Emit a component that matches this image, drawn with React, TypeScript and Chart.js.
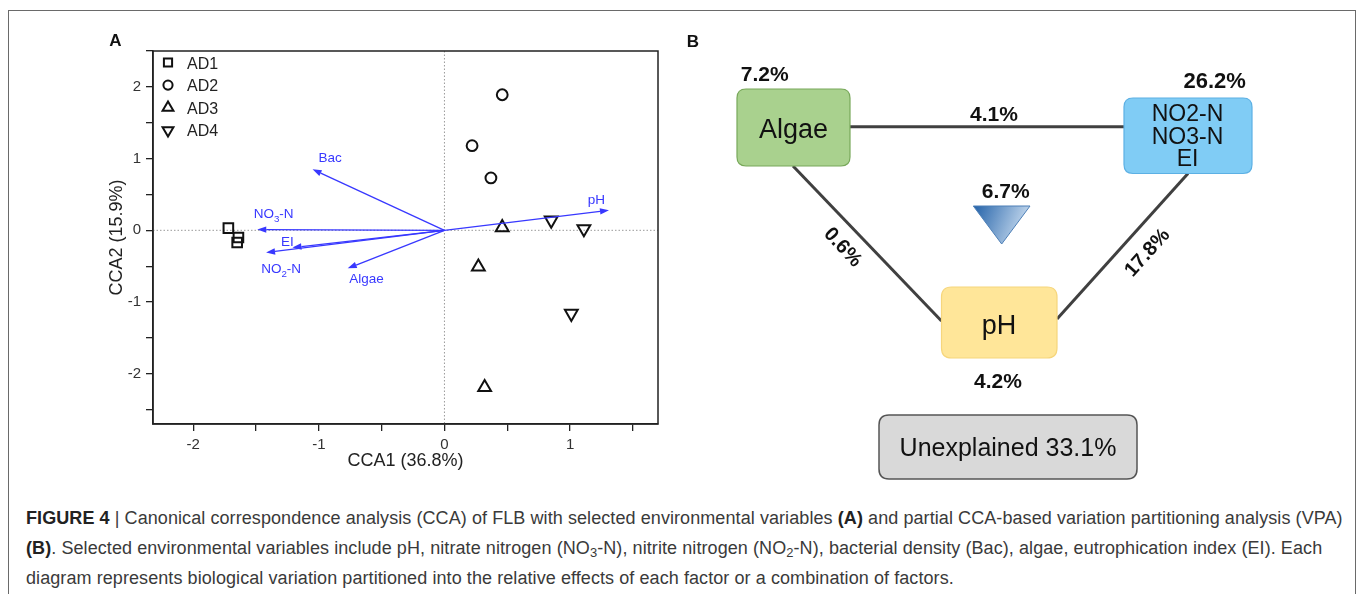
import React, { useEffect, useRef } from "react";
import { Chart, registerables } from "chart.js";

Chart.register(...registerables);

const FONT = "'Liberation Sans', Arial, Helvetica, sans-serif";

// ---------------- Panel A: CCA biplot ----------------
const groupNames = ["AD1", "AD2", "AD3", "AD4"];
const ad1X = [-1.72, -1.64, -1.65];
const ad1Y = [0.03, -0.1, -0.17];
const ad2X = [0.46, 0.22, 0.37];
const ad2Y = [1.89, 1.18, 0.73];
const ad3X = [0.46, 0.27, 0.32];
const ad3Y = [0.04, -0.51, -2.19];
const ad4X = [0.85, 1.11, 1.01];
const ad4Y = [0.14, 0.02, -1.16];

const envNames = ["Bac", "NO3-N", "EI", "NO2-N", "Algae", "pH"];
const envX = [-1.05, -1.49, -1.21, -1.42, -0.77, 1.31];
const envY = [0.85, 0.01, -0.24, -0.31, -0.53, 0.28];
const envLabelX = [-0.91, -1.36, -1.25, -1.3, -0.62, 1.21];
const envLabelY = [1.02, 0.24, -0.15, -0.53, -0.67, 0.44];

const xTickLabels = ["-2", "-1", "0", "1"];
const yTickLabels = ["-2", "-1", "0", "1", "2"];
const xAxisTitle = "CCA1 (36.8%)";
const yAxisTitle = "CCA2 (15.9%)";
const xRange = [-2.32, 1.7];
const yRange = [-2.7, 2.5];
const tickStep = 0.5;

// marker styles per group
const groupStyle = ["rect", "circle", "triangle", "triangle"];
const groupRotation = [0, 0, 0, 180];
const groupRadius = [6.8, 5.4, 7.4, 7.4];

// ---------------- Panel B: variation partitioning ----------------
const vpaFactors = ["Algae", "NO2-N|NO3-N|EI", "pH"];
const vpaUnique = [7.2, 26.2, 4.2];
const vpaPairs = [4.1, 0.6, 17.8]; // Algae–NO, Algae–pH, NO–pH
const vpaShared = 6.7;
const vpaUnexplained = 33.1;

const pct = (v: number) => v.toFixed(1) + "%";
const zip = (xs: number[], ys: number[]) => xs.map((x, i) => ({ x, y: ys[i] }));
const labelFor = (v: number, list: string[]) => {
  const s = String(Math.round(v));
  return Math.abs(v - Math.round(v)) < 1e-6 && list.includes(s) ? s : "";
};

const ARROW = "#3838ff";

function drawSubLabel(ctx: CanvasRenderingContext2D, text: string, cx: number, cy: number, size: number) {
  const m = /^(NO)(\d)(-N)$/.exec(text);
  ctx.textBaseline = "alphabetic";
  const base = cy + size * 0.36;
  if (!m) {
    ctx.font = `${size}px ${FONT}`;
    ctx.textAlign = "center";
    ctx.fillText(text, cx, base);
    return;
  }
  const subSize = size * 0.72;
  ctx.font = `${size}px ${FONT}`;
  const w1 = ctx.measureText(m[1]).width;
  const w3 = ctx.measureText(m[3]).width;
  ctx.font = `${subSize}px ${FONT}`;
  const w2 = ctx.measureText(m[2]).width;
  let x = cx - (w1 + w2 + w3) / 2;
  ctx.textAlign = "left";
  ctx.font = `${size}px ${FONT}`;
  ctx.fillText(m[1], x, base);
  x += w1;
  ctx.font = `${subSize}px ${FONT}`;
  ctx.fillText(m[2], x, base + size * 0.3);
  x += w2;
  ctx.font = `${size}px ${FONT}`;
  ctx.fillText(m[3], x, base);
}

function markerPath(ctx: CanvasRenderingContext2D, style: string, x: number, y: number, r: number, rotDeg: number) {
  ctx.beginPath();
  if (style === "rect") {
    const s = Math.SQRT1_2 * r;
    ctx.rect(x - s, y - s, 2 * s, 2 * s);
  } else if (style === "circle") {
    ctx.arc(x, y, r, 0, Math.PI * 2);
  } else {
    let rad = (rotDeg * Math.PI) / 180;
    ctx.moveTo(x + Math.sin(rad) * r, y - Math.cos(rad) * r);
    rad += (2 * Math.PI) / 3;
    ctx.lineTo(x + Math.sin(rad) * r, y - Math.cos(rad) * r);
    rad += (2 * Math.PI) / 3;
    ctx.lineTo(x + Math.sin(rad) * r, y - Math.cos(rad) * r);
    ctx.closePath();
  }
}

const biplotPlugin = {
  id: "biplotDecor",
  beforeDatasetsDraw(chart: any) {
    const { ctx, chartArea, scales } = chart;
    const x0 = scales.x.getPixelForValue(0);
    const y0 = scales.y.getPixelForValue(0);
    ctx.save();
    ctx.strokeStyle = "#9a9a9a";
    ctx.lineWidth = 1;
    ctx.setLineDash([1.5, 2]);
    ctx.beginPath();
    ctx.moveTo(x0, chartArea.top);
    ctx.lineTo(x0, chartArea.bottom);
    ctx.moveTo(chartArea.left, y0);
    ctx.lineTo(chartArea.right, y0);
    ctx.stroke();
    ctx.restore();
  },
  afterDatasetsDraw(chart: any) {
    const { ctx, scales } = chart;
    const ox = scales.x.getPixelForValue(0);
    const oy = scales.y.getPixelForValue(0);
    ctx.save();
    ctx.strokeStyle = ARROW;
    ctx.fillStyle = ARROW;
    ctx.lineWidth = 1.3;
    envNames.forEach((name, i) => {
      const tx = scales.x.getPixelForValue(envX[i]);
      const ty = scales.y.getPixelForValue(envY[i]);
      const ang = Math.atan2(ty - oy, tx - ox);
      const hl = 9, hw = 3.2;
      const bx = tx - hl * Math.cos(ang);
      const by = ty - hl * Math.sin(ang);
      ctx.beginPath();
      ctx.moveTo(ox, oy);
      ctx.lineTo(bx, by);
      ctx.stroke();
      ctx.beginPath();
      ctx.moveTo(tx, ty);
      ctx.lineTo(bx + hw * Math.sin(ang), by - hw * Math.cos(ang));
      ctx.lineTo(bx - hw * Math.sin(ang), by + hw * Math.cos(ang));
      ctx.closePath();
      ctx.fill();
      const lx = scales.x.getPixelForValue(envLabelX[i]);
      const ly = scales.y.getPixelForValue(envLabelY[i]);
      drawSubLabel(ctx, name, lx, ly, 13.5);
    });
    ctx.restore();
  },
  afterDraw(chart: any) {
    const { ctx, chartArea } = chart;
    ctx.save();
    ctx.strokeStyle = "#222";
    ctx.lineWidth = 1.5;
    ctx.strokeRect(chartArea.left, chartArea.top, chartArea.right - chartArea.left, chartArea.bottom - chartArea.top);
    // legend (top-left, inside the plot)
    groupNames.forEach((name, i) => {
      const cy = chartArea.top + 11.5 + i * 22.6;
      const cx = chartArea.left + 15;
      markerPath(ctx, groupStyle[i], cx, cy, groupRadius[i] * 0.85, groupRotation[i]);
      ctx.strokeStyle = "#111";
      ctx.lineWidth = 2;
      ctx.stroke();
      ctx.fillStyle = "#222";
      ctx.font = `16px ${FONT}`;
      ctx.textAlign = "left";
      ctx.textBaseline = "alphabetic";
      ctx.fillText(name, chartArea.left + 34, cy + 6);
    });
    ctx.fillStyle = "#111";
    ctx.font = `bold 17px ${FONT}`;
    ctx.textAlign = "center";
    ctx.textBaseline = "alphabetic";
    ctx.fillText("A", 115.5, 46);
    ctx.restore();
  },
};

function roundRect(ctx: CanvasRenderingContext2D, x: number, y: number, w: number, h: number, r: number) {
  ctx.beginPath();
  ctx.moveTo(x + r, y);
  ctx.lineTo(x + w - r, y);
  ctx.quadraticCurveTo(x + w, y, x + w, y + r);
  ctx.lineTo(x + w, y + h - r);
  ctx.quadraticCurveTo(x + w, y + h, x + w - r, y + h);
  ctx.lineTo(x + r, y + h);
  ctx.quadraticCurveTo(x, y + h, x, y + h - r);
  ctx.lineTo(x, y + r);
  ctx.quadraticCurveTo(x, y, x + r, y);
  ctx.closePath();
}

const vpaPlugin = {
  id: "vpaDiagram",
  afterDraw(chart: any) {
    const { ctx, scales } = chart;
    const X = (v: number) => scales.x.getPixelForValue(v);
    const Y = (v: number) => scales.y.getPixelForValue(v);
    const text = (s: string, x: number, y: number, font: string, color = "#111") => {
      ctx.font = font;
      ctx.fillStyle = color;
      ctx.textAlign = "center";
      ctx.textBaseline = "alphabetic";
      ctx.fillText(s, X(x), Y(y));
    };
    const box = (x1: number, y1: number, x2: number, y2: number, r: number, fill: string, stroke: string, lw: number) => {
      roundRect(ctx, X(x1), Y(y1), X(x2) - X(x1), Y(y2) - Y(y1), r);
      ctx.fillStyle = fill;
      ctx.fill();
      ctx.strokeStyle = stroke;
      ctx.lineWidth = lw;
      ctx.stroke();
    };
    const line = (x1: number, y1: number, x2: number, y2: number) => {
      ctx.beginPath();
      ctx.moveTo(X(x1), Y(y1));
      ctx.lineTo(X(x2), Y(y2));
      ctx.stroke();
    };
    const rotText = (s: string, x: number, y: number, deg: number) => {
      ctx.save();
      ctx.translate(X(x), Y(y));
      ctx.rotate((deg * Math.PI) / 180);
      ctx.font = `bold 20px ${FONT}`;
      ctx.fillStyle = "#111";
      ctx.textAlign = "center";
      ctx.textBaseline = "middle";
      ctx.fillText(s, 0, 0);
      ctx.restore();
    };
    ctx.save();
    text("B", 693, 47, `bold 17px ${FONT}`);

    ctx.strokeStyle = "#404040";
    ctx.lineWidth = 3;
    line(850, 126.7, 1124, 126.7);
    line(793, 166, 941.5, 321);
    line(1188, 173.5, 1057, 319);

    box(737, 89, 850, 166, 9, "#a9d18e", "#78a85a", 1.2);
    text(vpaFactors[0], 793.5, 138, `27px ${FONT}`);

    box(1124, 98, 1252, 173.5, 9, "#80ccf5", "#5cb0e4", 1.2);
    const noLines = vpaFactors[1].split("|");
    const noBase = [121, 143.5, 166];
    noLines.forEach((s, i) => text(s, 1187.5, noBase[i], `23px ${FONT}`));

    box(941.5, 287, 1057, 358, 10, "#ffe699", "#f6d67c", 1.2);
    text(vpaFactors[2], 999, 333.5, `27px ${FONT}`);

    text(pct(vpaUnique[0]), 764.7, 81, `bold 21px ${FONT}`);
    text(pct(vpaUnique[1]), 1214.7, 88.3, `bold 22px ${FONT}`);
    text(pct(vpaUnique[2]), 998, 387.5, `bold 21px ${FONT}`);

    text(pct(vpaPairs[0]), 994, 121, `bold 21px ${FONT}`);
    rotText(pct(vpaPairs[1]), 842.5, 247.5, 47);
    rotText(pct(vpaPairs[2]), 1147.5, 253, -48);

    text(pct(vpaShared), 1005.7, 198.3, `bold 21px ${FONT}`);
    const g = ctx.createLinearGradient(X(973), Y(206), X(1030), Y(228));
    g.addColorStop(0, "#2261a8");
    g.addColorStop(1, "#d2e3f4");
    ctx.beginPath();
    ctx.moveTo(X(973.3), Y(206));
    ctx.lineTo(X(1030), Y(206));
    ctx.lineTo(X(1001.7), Y(244));
    ctx.closePath();
    ctx.fillStyle = g;
    ctx.fill();
    ctx.strokeStyle = "#4d7fb6";
    ctx.lineWidth = 1;
    ctx.stroke();

    box(879, 415, 1137, 479, 10, "#d9d9d9", "#555", 1.5);
    text("Unexplained " + pct(vpaUnexplained), 1008, 456, `25px ${FONT}`);
    ctx.restore();
  },
};

export default function App() {
  const refA = useRef<HTMLCanvasElement>(null);
  const refB = useRef<HTMLCanvasElement>(null);

  useEffect(() => {
    const common = {
      backgroundColor: "rgba(0,0,0,0)",
      borderColor: "#111",
      pointBorderWidth: 2,
      borderWidth: 2,
      pointBorderColor: "#111",
      pointBackgroundColor: "rgba(0,0,0,0)",
      showLine: false,
    };
    const halfTicks = (s: any) => {
      const out: any[] = [];
      const start = Math.ceil(s.min / tickStep - 1e-9);
      const end = Math.floor(s.max / tickStep + 1e-9);
      for (let k = start; k <= end; k++) out.push({ value: +(k * tickStep).toFixed(6) });
      s.ticks = out;
    };
    const tickFont = { family: FONT, size: 15 };
    const datasets = [
      zip(ad1X, ad1Y),
      zip(ad2X, ad2Y),
      zip(ad3X, ad3Y),
      zip(ad4X, ad4Y),
    ].map((data, i) => ({
      label: groupNames[i],
      data,
      pointStyle: groupStyle[i],
      pointRotation: groupRotation[i],
      pointRadius: groupRadius[i],
      ...common,
    }));
    const chartA = new Chart(refA.current as HTMLCanvasElement, {
      type: "scatter",
      data: { datasets },
      options: {
        animation: false,
        responsive: false,
        events: [],
        layout: { padding: { left: 0, top: 51, right: 22, bottom: 0 } },
        scales: {
          x: {
            type: "linear",
            min: xRange[0],
            max: xRange[1],
            afterBuildTicks: halfTicks,
            afterFit: (s: any) => { s.height = 56; },
            ticks: {
              autoSkip: false,
              maxRotation: 0,
              padding: 5,
              color: "#333",
              font: tickFont,
              callback: (v: any) => labelFor(Number(v), xTickLabels),
            },
            grid: { drawOnChartArea: false, drawTicks: true, tickLength: 7, color: "#222", lineWidth: 1.3 },
            border: { display: true, color: "#222", width: 1.5 },
            title: { display: true, text: xAxisTitle, color: "#222", font: { family: FONT, size: 18 }, padding: { top: 0, bottom: 8 } },
          },
          y: {
            type: "linear",
            min: yRange[0],
            max: yRange[1],
            afterBuildTicks: halfTicks,
            afterFit: (s: any) => { s.width = 153; },
            ticks: {
              autoSkip: false,
              padding: 5,
              color: "#333",
              font: tickFont,
              callback: (v: any) => labelFor(Number(v), yTickLabels),
            },
            grid: { drawOnChartArea: false, drawTicks: true, tickLength: 7, color: "#222", lineWidth: 1.3 },
            border: { display: true, color: "#222", width: 1.5 },
            title: { display: true, text: yAxisTitle, color: "#222", font: { family: FONT, size: 18 }, padding: { top: 106, bottom: 0 } },
          },
        },
        plugins: {
          legend: { display: false },
          tooltip: { enabled: false },
        },
      } as any,
      plugins: [biplotPlugin],
    } as any);

    const chartB = new Chart(refB.current as HTMLCanvasElement, {
      type: "scatter",
      data: { datasets: [] },
      options: {
        animation: false,
        responsive: false,
        events: [],
        layout: { padding: 0 },
        scales: {
          x: { type: "linear", display: false, min: 680, max: 1357 },
          y: { type: "linear", display: false, min: 20, max: 494, reverse: true },
        },
        plugins: { legend: { display: false }, tooltip: { enabled: false } },
      } as any,
      plugins: [vpaPlugin],
    } as any);

    return () => {
      chartA.destroy();
      chartB.destroy();
    };
  }, []);

  const subStyle: React.CSSProperties = { fontSize: "0.72em", lineHeight: 0, verticalAlign: "-0.25em" };

  return (
    <div style={{ position: "fixed", left: 0, top: 0, width: 1357, height: 594, background: "#fff", overflow: "hidden" }}>
      <div
        style={{
          position: "absolute",
          left: 8,
          top: 10,
          width: 1348,
          height: 700,
          boxSizing: "border-box",
          border: "1px solid #6a6a6a",
        }}
      />
      <canvas ref={refA} width={680} height={480} style={{ position: "absolute", left: 0, top: 0 }} />
      <canvas ref={refB} width={677} height={474} style={{ position: "absolute", left: 680, top: 20 }} />
      <div
        style={{
          position: "absolute",
          left: 26,
          top: 503,
          fontFamily: FONT,
          fontSize: 18,
          letterSpacing: "0.08px",
          lineHeight: "30px",
          color: "#3a3a3a",
          whiteSpace: "nowrap",
        }}
      >
        <b style={{ color: "#222" }}>FIGURE 4</b> | Canonical correspondence analysis (CCA) of FLB with selected environmental variables{" "}
        <b style={{ color: "#222" }}>(A)</b> and partial CCA-based variation partitioning analysis (VPA)
        <br />
        <b style={{ color: "#222" }}>(B)</b>. Selected environmental variables include pH, nitrate nitrogen (NO<span style={subStyle}>3</span>-N), nitrite
        nitrogen (NO<span style={subStyle}>2</span>-N), bacterial density (Bac), algae, eutrophication index (EI). Each
        <br />
        diagram represents biological variation partitioned into the relative effects of each factor or a combination of factors.
      </div>
    </div>
  );
}
